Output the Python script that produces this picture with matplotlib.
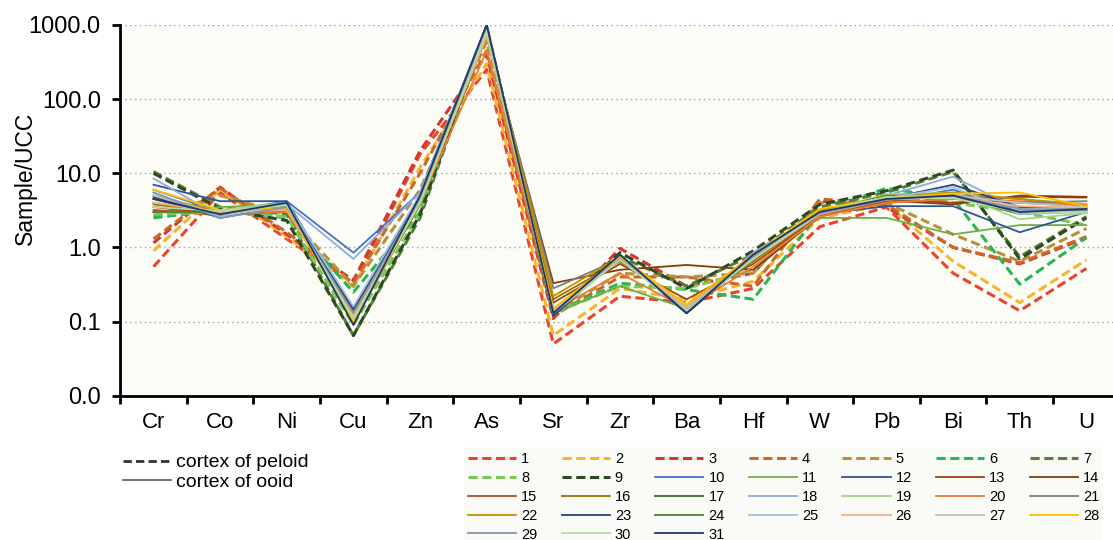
import matplotlib.pyplot as plt
from matplotlib.ticker import FixedLocator, FuncFormatter, NullLocator
from matplotlib.lines import Line2D

plt.rcParams['font.family'] = ['Liberation Sans', 'DejaVu Sans']

elements = ["Cr", "Co", "Ni", "Cu", "Zn", "As", "Sr", "Zr", "Ba", "Hf", "W", "Pb", "Bi", "Th", "U"]

# sample/UCC ratios, series 1-9 cortex of peloid (dashed), 10-31 cortex of ooid (solid)
s1 = [0.55, 5.5, 1.3, 0.33, 18, 250, 0.05, 0.22, 0.18, 0.28, 1.9, 3.5, 0.45, 0.14, 0.52]
s2 = [0.9, 6.0, 1.4, 0.30, 12, 300, 0.065, 0.28, 0.20, 0.35, 2.5, 3.8, 0.65, 0.18, 0.68]
s3 = [1.15, 6.5, 1.5, 0.36, 20, 400, 0.11, 0.97, 0.30, 0.45, 4.2, 3.5, 1.0, 0.60, 1.35]
s4 = [1.3, 6.3, 1.6, 0.33, 10, 450, 0.12, 0.40, 0.40, 0.30, 4.5, 3.8, 1.0, 0.62, 1.4]
s5 = [2.6, 5.0, 2.8, 0.30, 6, 600, 0.13, 0.45, 0.40, 0.45, 4.0, 4.0, 1.5, 0.65, 1.8]
s6 = [2.5, 3.2, 2.5, 0.25, 3.0, 800, 0.13, 0.33, 0.27, 0.20, 3.0, 6.3, 4.5, 0.32, 1.35]
s7 = [10.5, 3.5, 2.8, 0.065, 2.5, 900, 0.14, 0.75, 0.30, 0.80, 3.5, 5.5, 10.5, 0.75, 2.6]
s8 = [2.8, 3.0, 2.6, 0.09, 3.0, 850, 0.13, 0.30, 0.28, 0.50, 2.8, 5.0, 4.0, 3.0, 2.0]
s9 = [10.0, 3.3, 2.3, 0.065, 2.8, 950, 0.13, 0.85, 0.28, 0.90, 3.8, 5.8, 11.0, 0.70, 2.5]
s10 = [6.0, 3.0, 4.2, 0.85, 5.5, 1000, 0.13, 0.75, 0.13, 0.75, 2.7, 4.2, 6.0, 3.0, 3.2]
s11 = [3.0, 3.5, 3.8, 0.15, 4.5, 700, 0.13, 0.30, 0.15, 0.70, 2.5, 2.5, 1.5, 2.0, 2.0]
s12 = [7.0, 4.2, 4.2, 0.14, 5.0, 1000, 0.12, 0.80, 0.13, 0.80, 2.8, 3.6, 3.6, 1.6, 3.0]
s13 = [3.5, 2.8, 3.2, 0.12, 4.0, 750, 0.18, 0.60, 0.20, 0.60, 2.7, 4.5, 4.0, 4.8, 4.7]
s14 = [4.0, 2.8, 3.0, 0.15, 4.0, 700, 0.33, 0.50, 0.58, 0.50, 2.6, 4.3, 3.8, 5.0, 4.8]
s15 = [3.2, 2.7, 3.1, 0.13, 4.5, 800, 0.14, 0.70, 0.15, 0.70, 2.8, 4.0, 4.5, 4.0, 3.6]
s16 = [3.8, 2.9, 3.2, 0.12, 4.3, 750, 0.20, 0.65, 0.16, 0.65, 2.9, 4.4, 5.0, 4.5, 3.5]
s17 = [4.5, 3.0, 3.5, 0.10, 3.8, 850, 0.13, 0.75, 0.14, 0.80, 3.0, 4.8, 5.0, 3.0, 3.3]
s18 = [8.5, 2.6, 3.8, 0.70, 5.5, 950, 0.13, 0.80, 0.14, 0.85, 3.0, 5.0, 9.0, 3.2, 3.0]
s19 = [4.0, 3.2, 4.0, 0.12, 4.8, 800, 0.13, 0.70, 0.15, 0.75, 3.0, 5.2, 5.5, 2.4, 2.9]
s20 = [3.0, 2.8, 3.0, 0.13, 4.0, 450, 0.14, 0.45, 0.15, 0.55, 2.6, 4.0, 4.5, 4.2, 3.7]
s21 = [4.5, 2.7, 3.3, 0.11, 4.2, 800, 0.28, 0.70, 0.15, 0.70, 2.8, 4.6, 5.0, 4.0, 4.2]
s22 = [5.0, 3.0, 3.4, 0.12, 4.4, 820, 0.22, 0.75, 0.16, 0.80, 3.2, 4.8, 5.5, 4.5, 3.8]
s23 = [4.8, 2.5, 3.6, 0.15, 5.0, 900, 0.12, 0.75, 0.13, 0.75, 2.9, 4.5, 7.0, 3.5, 3.4]
s24 = [3.0, 3.0, 3.6, 0.10, 4.0, 880, 0.13, 0.70, 0.14, 0.70, 3.0, 5.0, 5.0, 2.8, 3.1]
s25 = [5.5, 2.6, 3.9, 0.16, 5.2, 900, 0.13, 0.70, 0.14, 0.75, 2.9, 4.6, 6.5, 2.8, 3.0]
s26 = [4.0, 3.0, 3.2, 0.12, 4.2, 700, 0.15, 0.70, 0.16, 0.70, 2.8, 4.4, 4.8, 3.6, 3.4]
s27 = [5.0, 2.8, 3.4, 0.11, 4.5, 800, 0.14, 0.70, 0.15, 0.70, 2.9, 4.6, 5.0, 4.0, 3.5]
s28 = [6.0, 3.2, 3.4, 0.10, 4.0, 820, 0.15, 0.75, 0.17, 0.80, 3.3, 4.7, 5.3, 5.5, 3.6]
s29 = [5.5, 2.5, 3.5, 0.13, 4.6, 850, 0.13, 0.70, 0.14, 0.75, 2.9, 4.4, 5.0, 3.3, 3.2]
s30 = [3.5, 3.1, 3.7, 0.11, 4.0, 820, 0.13, 0.68, 0.14, 0.70, 3.0, 4.8, 4.6, 3.0, 3.0]
s31 = [4.5, 2.8, 4.0, 0.09, 5.0, 1000, 0.13, 0.80, 0.13, 0.80, 3.0, 4.5, 5.0, 3.0, 3.3]

series = [s1, s2, s3, s4, s5, s6, s7, s8, s9, s10, s11, s12, s13, s14, s15, s16,
          s17, s18, s19, s20, s21, s22, s23, s24, s25, s26, s27, s28, s29, s30, s31]
labels = [str(i + 1) for i in range(len(series))]
colors = ["#e8452c", "#f5b52e", "#d9362b", "#c8692b", "#b8913a", "#2bb556", "#55803c",
          "#7cc65a", "#2f4a22", "#4472c4", "#70ad47", "#2f5597", "#9e480e", "#843c0c",
          "#a0522d", "#997300", "#43682b", "#8faadc", "#a9d18e", "#ed7d31", "#7f7f7f",
          "#bf9000", "#264478", "#548235", "#9dc3e6", "#f4b183", "#bfbfbf", "#ffc000",
          "#8497b0", "#b5dba0", "#203864"]
n_peloid = 9
ncol = 7

fig = plt.figure(figsize=(11.13, 5.4), dpi=100)
ax = fig.add_axes([0.108, 0.267, 0.898, 0.687])
ax.set_facecolor("#fcfcf7")

x = list(range(len(elements)))
handles = []
for i, vals in enumerate(series):
    if i < n_peloid:
        ln, = ax.plot(x, vals, color=colors[i], lw=2.2, ls=(0, (3, 1.5)))
    else:
        ln, = ax.plot(x, vals, color=colors[i], lw=1.3)
    handles.append(ln)

ax.set_yscale("log")
ax.set_ylim(0.01, 1000)
ax.set_xlim(-0.5, len(elements) - 0.5)
ax.yaxis.set_major_locator(FixedLocator([0.01, 0.1, 1, 10, 100, 1000]))
ax.yaxis.set_minor_locator(NullLocator())
ax.yaxis.set_major_formatter(FuncFormatter(lambda v, p: f"{v:.1f}"))
ax.grid(axis="y", which="major", color="#a0a0a0", ls=(0, (1, 2.5)), lw=1.0)

ax.set_xticks([i - 0.5 for i in range(len(elements) + 1)])
ax.set_xticklabels([])
ax.set_xticks(x, minor=True)
ax.set_xticklabels(elements, minor=True, fontsize=16)
ax.tick_params(axis="x", which="minor", length=0, pad=12)
ax.tick_params(axis="x", which="major", direction="out", length=6, width=2)
ax.tick_params(axis="y", direction="out", length=6, width=2, labelsize=17, pad=8)

for side in ["top", "right"]:
    ax.spines[side].set_visible(False)
for side in ["left", "bottom"]:
    ax.spines[side].set_linewidth(2)
    ax.spines[side].set_color("black")

ax.set_ylabel("Sample/UCC", fontsize=16.5)
ax.yaxis.set_label_coords(-0.083, 0.585)

# legend fills column by column, so reorder to read 1..7 across each row
order = [r * ncol + c for c in range(ncol) for r in range(5) if r * ncol + c < len(series)]
leg = fig.legend([handles[k] for k in order], [labels[k] for k in order], ncol=ncol,
                 loc="upper left", bbox_to_anchor=(0.41, 0.185), fontsize=10.5,
                 frameon=True, handlelength=3.3, handletextpad=0.35, columnspacing=1.65,
                 labelspacing=0.34, borderpad=0.3)
leg.get_frame().set_facecolor("#f9f9f5")
leg.get_frame().set_edgecolor("none")
leg.get_frame().set_boxstyle("square", pad=0)

kind_handles = [Line2D([], [], color="#333333", lw=2.0, ls=(0, (3, 1.5))),
                Line2D([], [], color="#555555", lw=1.2)]
fig.legend(kind_handles, ["cortex of peloid", "cortex of ooid"], loc="upper left",
           bbox_to_anchor=(0.098, 0.185), fontsize=14, frameon=False,
           handlelength=2.5, handletextpad=0.25, labelspacing=0.1, borderpad=0.2)

fig.savefig("out.png", dpi=100)
